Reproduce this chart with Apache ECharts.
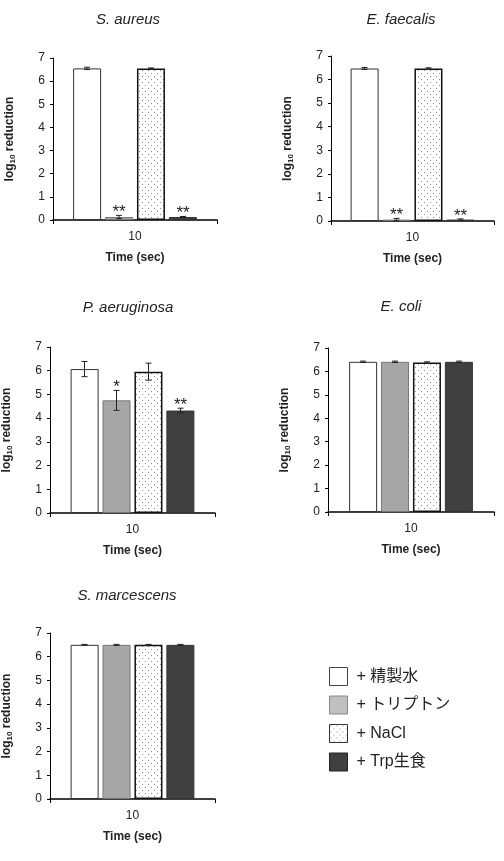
<!DOCTYPE html>
<html>
<head>
<meta charset="utf-8">
<script src="https://cdn.jsdelivr.net/npm/echarts@6/dist/echarts.min.js"></script>
<style>
  html, body { margin: 0; padding: 0; background: #fff; }
  #chart { width: 504px; height: 861px; }
</style>
</head>
<body>
<div id="chart"></div>
<script>
// data
var organisms = ['S. aureus', 'E. faecalis', 'P. aeruginosa', 'E. coli', 'S. marcescens'];
var treatments = ['+ 精製水', '+ トリプトン', '+ NaCl', '+ Trp生食'];
var times = ['10'];

var sAureusMean = [6.55, 0.13, 6.55, 0.13];
var sAureusErr = [0.05, 0.07, 0.02, 0.02];
var sAureusMark = ['', '**', '', '**'];

var eFaecalisMean = [6.47, 0.06, 6.47, 0.06];
var eFaecalisErr = [0.04, 0.05, 0.03, 0.03];
var eFaecalisMark = ['', '**', '', '**'];

var pAeruginosaMean = [6.07, 4.75, 5.96, 4.32];
var pAeruginosaErr = [0.32, 0.42, 0.36, 0.1];
var pAeruginosaMark = ['', '*', '', '**'];

var eColiMean = [6.41, 6.41, 6.38, 6.41];
var eColiErr = [0.03, 0.03, 0.03, 0.03];
var eColiMark = ['', '', '', ''];

var sMarcescensMean = [6.5, 6.5, 6.5, 6.5];
var sMarcescensErr = [0.02, 0.02, 0.02, 0.02];
var sMarcescensMark = ['', '', '', ''];

var means = [sAureusMean, eFaecalisMean, pAeruginosaMean, eColiMean, sMarcescensMean];
var errs = [sAureusErr, eFaecalisErr, pAeruginosaErr, eColiErr, sMarcescensErr];
var marks = [sAureusMark, eFaecalisMark, pAeruginosaMark, eColiMark, sMarcescensMark];

// layout of each panel (plot area in px)
var panels = [
  { left: 53, top: 58, width: 164, height: 162, tx: 128, ty: 21 },
  { left: 331, top: 56, width: 163, height: 165, tx: 401, ty: 21 },
  { left: 50, top: 347, width: 165, height: 166, tx: 128, ty: 309 },
  { left: 328, top: 348, width: 166, height: 164, tx: 401, ty: 308 },
  { left: 49, top: 633, width: 166, height: 166, tx: 127, ty: 597 }
];

var FONT = '"Liberation Sans", Arial, "Noto Sans CJK JP", sans-serif';
var BAR_W = 28;
var BAR_STEP = 32;

// dotted fill for the NaCl bars
var dots = document.createElement('canvas');
dots.width = 6;
dots.height = 6;
var dctx = dots.getContext('2d');
dctx.fillStyle = '#ffffff';
dctx.fillRect(0, 0, 6, 6);
dctx.fillStyle = '#8a8a8a';
dctx.fillRect(1, 1, 1, 1);
dctx.fillRect(4, 4, 1, 1);

var styles = [
  { color: '#ffffff', borderColor: '#333', borderWidth: 1 },
  { color: '#a6a6a6', borderColor: '#777', borderWidth: 1 },
  { color: { image: dots, repeat: 'repeat' }, borderColor: '#111', borderWidth: 1.5 },
  { color: '#404040', borderColor: '#333', borderWidth: 1 }
];

var grids = [], xAxes = [], yAxes = [], titles = [], series = [];

panels.forEach(function (p, k) {
  grids.push({ left: p.left, top: p.top, width: p.width, height: p.height });
  titles.push({
    text: organisms[k],
    left: p.tx,
    top: p.ty - 9,
    textAlign: 'center',
    padding: 0,
    textStyle: { fontFamily: FONT, fontSize: 15, fontStyle: 'italic', fontWeight: 'normal', color: '#222' }
  });
  xAxes.push({
    type: 'category',
    gridIndex: k,
    data: times,
    name: 'Time (sec)',
    nameLocation: 'middle',
    nameGap: 32,
    nameTextStyle: { fontFamily: FONT, fontSize: 12, fontWeight: 'bold', color: '#222' },
    axisLine: { lineStyle: { color: '#000', width: 1.5 } },
    axisTick: { show: true, length: 4, lineStyle: { color: '#000' } },
    axisLabel: { fontFamily: FONT, fontSize: 12, color: '#222', margin: 11 }
  });
  yAxes.push({
    type: 'value',
    gridIndex: k,
    min: 0,
    max: 7,
    interval: 1,
    name: '{a|log}{b|10}{a| reduction}',
    nameLocation: 'middle',
    nameRotate: 90,
    nameGap: 36,
    nameTextStyle: {
      rich: {
        a: { fontFamily: FONT, fontSize: 12, fontWeight: 'bold', color: '#222', lineHeight: 14 },
        b: { fontFamily: FONT, fontSize: 8, fontWeight: 'bold', color: '#222', lineHeight: 14, verticalAlign: 'bottom', padding: [4, 0, 0, 0] }
      }
    },
    splitLine: { show: false },
    axisLine: { show: true, lineStyle: { color: '#000', width: 1 } },
    axisTick: { show: true, length: 3, lineStyle: { color: '#000' } },
    axisLabel: { fontFamily: FONT, fontSize: 12, color: '#222', margin: 8 }
  });

  treatments.forEach(function (t, i) {
    series.push({
      name: t,
      type: 'bar',
      xAxisIndex: k,
      yAxisIndex: k,
      barWidth: BAR_W,
      barGap: '14%',
      itemStyle: styles[i],
      emphasis: { disabled: true },
      data: [means[k][i]]
    });
  });

  var errData = means[k].map(function (m, i) {
    return [0, i, m, errs[k][i]];
  });
  series.push({
    type: 'custom',
    xAxisIndex: k,
    yAxisIndex: k,
    z: 5,
    silent: true,
    encode: { x: 0, y: 2 },
    data: errData,
    renderItem: function (params, api) {
      var i = api.value(1);
      var m = api.value(2);
      var e = api.value(3);
      var hi = api.coord([api.value(0), m + e]);
      var lo = api.coord([api.value(0), m - e]);
      var x = hi[0] + (i - 1.5) * BAR_STEP;
      var st = { stroke: '#222', lineWidth: 1 };
      var kids = [
        { type: 'line', shape: { x1: x, y1: hi[1], x2: x, y2: lo[1] }, style: st },
        { type: 'line', shape: { x1: x - 3, y1: hi[1], x2: x + 3, y2: hi[1] }, style: st },
        { type: 'line', shape: { x1: x - 3, y1: lo[1], x2: x + 3, y2: lo[1] }, style: st }
      ];
      var mk = marks[k][params.dataIndex];
      if (mk) {
        kids.push({
          type: 'text',
          style: {
            text: mk, x: x, y: hi[1] - 3,
            align: 'center', verticalAlign: 'middle',
            font: '17px ' + FONT, fill: '#222'
          }
        });
      }
      return { type: 'group', children: kids };
    }
  });
});

var chart = echarts.init(document.getElementById('chart'), null, { renderer: 'canvas' });
chart.setOption({
  backgroundColor: '#fff',
  animation: false,
  title: titles,
  legend: {
    orient: 'vertical',
    left: 324,
    top: 662,
    itemWidth: 18,
    itemHeight: 18,
    itemGap: 9.5,
    icon: 'rect',
    selectedMode: false,
    data: [
      { name: treatments[0], itemStyle: { color: '#fff', borderColor: '#444', borderWidth: 1 } },
      { name: treatments[1], itemStyle: { color: '#c0c0c0', borderColor: '#888', borderWidth: 1 } },
      { name: treatments[2], itemStyle: { borderColor: '#333', borderWidth: 1 } },
      { name: treatments[3], itemStyle: { color: '#404040', borderColor: '#222', borderWidth: 1 } }
    ],
    textStyle: { fontFamily: FONT, fontSize: 16, lineHeight: 18, color: '#222', padding: [0, 0, 0, 4] }
  },
  grid: grids,
  xAxis: xAxes,
  yAxis: yAxes,
  series: series
});
</script>
</body>
</html>
